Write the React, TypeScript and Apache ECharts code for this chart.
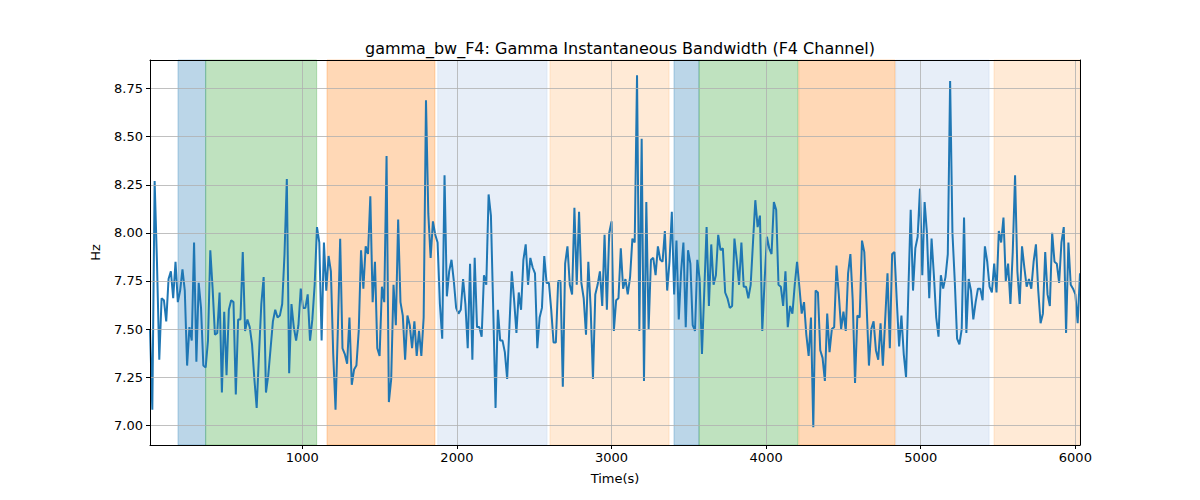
import React, { useEffect, useRef } from "react";
import * as echarts from "echarts";

const TITLE = "gamma_bw_F4: Gamma Instantaneous Bandwidth (F4 Channel)";
const X_LABEL = "Time(s)";
const Y_LABEL = "Hz";

const X_MIN = 15;
const X_MAX = 6030;
const Y_MIN = 6.897;
const Y_MAX = 8.899;
const X_TICKS = [1000, 2000, 3000, 4000, 5000, 6000];
const Y_TICKS = [7.0, 7.25, 7.5, 7.75, 8.0, 8.25, 8.5, 8.75];

const T_START = 15;
const T_END = 6030;

const values = [
  7.50, 7.08, 8.27, 7.85, 7.34, 7.66, 7.65, 7.54, 7.76, 7.80, 7.66, 7.85, 7.64, 7.70, 7.81, 7.70, 7.31, 7.51, 7.44, 7.95,
  7.33, 7.74, 7.61, 7.31, 7.30, 7.44, 7.91, 7.71, 7.47, 7.48, 7.69, 7.17, 7.59, 7.26, 7.60, 7.65, 7.64, 7.16, 7.55, 7.55,
  7.90, 7.49, 7.55, 7.51, 7.42, 7.24, 7.09, 7.37, 7.63, 7.77, 7.17, 7.26, 7.40, 7.54, 7.60, 7.56, 7.57, 7.63, 7.89, 8.28,
  7.27, 7.63, 7.51, 7.44, 7.52, 7.71, 7.61, 7.61, 7.68, 7.44,
  7.55, 7.73, 8.03, 7.95, 7.44, 7.95, 7.70, 7.88, 7.80, 7.37, 7.08, 7.50, 7.97, 7.40, 7.37, 7.32, 7.56, 7.21, 7.29, 7.31,
  7.49, 7.91, 7.71, 7.93, 7.89, 8.19, 7.64, 7.85, 7.40, 7.36, 7.72, 7.64, 8.40, 7.12, 7.24, 7.73, 7.52, 8.07, 7.64, 7.57,
  7.34, 7.57, 7.52, 7.40, 7.54, 7.36, 7.49, 7.36, 7.56, 8.69, 8.10, 7.87, 8.06, 7.99, 7.95, 7.63, 7.45, 8.30, 7.67, 7.80,
  7.86, 7.75, 7.61, 7.58, 7.60, 7.76,
  7.63, 7.40, 7.84, 7.34, 7.87, 7.51, 7.51, 7.46, 7.78, 7.73, 8.20, 8.09, 7.60, 7.09, 7.60, 7.44, 7.44, 7.38, 7.24, 7.52,
  7.80, 7.65, 7.48, 7.69, 7.60, 7.86, 7.94, 7.73, 7.87, 7.82, 7.79, 7.40, 7.56, 7.61, 7.88, 7.74, 7.74, 7.60, 7.43, 7.43,
  7.75, 7.75, 7.20, 7.84, 7.93, 7.73, 7.68, 8.13, 7.73, 8.11, 7.74, 7.66, 7.47, 7.85, 7.61, 7.24, 7.68, 7.73, 7.80, 7.62,
  7.99, 7.60, 8.00, 8.06, 7.49, 7.65, 7.66,
  7.92, 7.71, 7.76, 7.68, 7.77, 7.97, 7.95, 8.82, 7.49, 8.49, 7.23, 8.16, 7.50, 7.86, 7.87, 7.78, 7.93, 7.86, 7.85, 8.01,
  7.70, 7.85, 8.11, 7.68, 7.96, 7.55, 7.80, 7.95, 7.51, 7.91, 7.84, 7.52, 7.49, 7.86, 7.76, 7.37, 7.70, 8.03, 7.62, 7.94,
  7.73, 7.78, 7.99, 7.91, 7.92, 7.69, 7.66, 7.61, 7.62, 7.97, 7.86, 7.73, 7.95, 7.72, 7.72, 7.66, 7.73, 7.95, 8.17, 8.03,
  8.09, 7.49, 7.75, 7.98, 7.92, 7.89, 8.16,
  8.12, 7.73, 7.72, 7.62, 7.80, 7.51, 7.62, 7.58, 7.73, 7.85, 7.72, 7.58, 7.64, 7.47, 7.36, 7.56, 6.99, 7.70, 7.69, 7.39,
  7.35, 7.23, 7.58, 7.38, 7.50, 7.51, 7.83, 7.68, 7.50, 7.59, 7.49, 7.79, 7.89, 7.65, 7.22, 7.57, 7.56, 7.96, 7.90, 7.62,
  7.31, 7.50, 7.54, 7.39, 7.34, 7.53, 7.31, 7.55, 7.79, 7.40, 7.89, 7.90, 7.65, 7.41, 7.57, 7.37, 7.25, 7.70, 8.12, 7.70,
  7.92, 7.98, 8.23, 7.78, 8.16, 8.00, 7.66,
  7.97, 7.78, 7.56, 7.46, 7.78, 7.71, 7.77, 7.89, 8.79, 8.00, 7.75, 7.45, 7.42, 7.50, 8.08, 7.48, 7.76, 7.70, 7.55, 7.64,
  7.71, 7.71, 7.65, 7.93, 7.85, 7.72, 7.69, 7.84, 7.69, 8.01, 7.95, 8.08, 7.75, 7.84, 7.63, 7.90, 8.30, 7.80, 7.63, 7.93,
  7.82, 7.72, 7.76, 7.71, 7.85, 7.94, 7.70, 7.53, 7.58, 7.90, 7.68, 7.62, 8.00, 7.85, 7.84, 7.74, 7.95, 8.03, 7.48, 7.95,
  7.73, 7.71, 7.68, 7.53, 7.79,
];

const bandStarts = [196, 375, 1160, 1876, 2602, 3404, 3566, 4211, 4838, 5474];
const bandEnds = [375, 1093, 1858, 2583, 3372, 3566, 4206, 4834, 5442, 6030];
const bandColors = [
  "rgba(31,119,180,0.3)",
  "rgba(44,160,44,0.3)",
  "rgba(255,127,14,0.3)",
  "rgba(174,199,232,0.3)",
  "rgba(255,187,120,0.3)",
  "rgba(31,119,180,0.3)",
  "rgba(44,160,44,0.3)",
  "rgba(255,127,14,0.3)",
  "rgba(174,199,232,0.3)",
  "rgba(255,187,120,0.3)",
];

const FONT = "DejaVu Sans";

export default function App() {
  const ref = useRef<HTMLDivElement>(null);

  useEffect(() => {
    if (!ref.current) return;
    const chart = echarts.init(ref.current, null, { renderer: "svg" });
    const n = values.length;
    const dt = (T_END - T_START) / (n - 1);
    const points = values.map((v, i) => [T_START + i * dt, v]);

    const areas = bandStarts.map((s, i) => [
      {
        xAxis: s,
        itemStyle: { color: bandColors[i], borderColor: bandColors[i], borderWidth: 1 },
      },
      { xAxis: bandEnds[i] },
    ]);

    const gridLine = { show: true, lineStyle: { color: "#b0b0b0", width: 0.8 } };
    const labelStyle = { fontFamily: FONT, fontSize: 13, color: "#000" };

    chart.setOption({
      animation: false,
      backgroundColor: "#ffffff",
      title: {
        text: TITLE,
        left: 615,
        top: 35,
        textAlign: "center",
        textStyle: { fontFamily: FONT, fontSize: 16, fontWeight: "normal", color: "#000" },
      },
      grid: {
        left: 150,
        right: 120,
        top: 60,
        bottom: 55,
        show: false,
      },
      xAxis: [
        {
          type: "value",
          min: X_MIN,
          max: X_MAX,
          z: 10,
          name: X_LABEL,
          nameLocation: "middle",
          nameGap: 27,
          nameTextStyle: labelStyle,
          axisLine: { show: true, onZero: false, lineStyle: { color: "#000", width: 1 } },
          axisTick: { show: true, length: 4, customValues: X_TICKS, lineStyle: { color: "#000" } },
          axisLabel: {
            ...labelStyle,
            margin: 6,
            customValues: X_TICKS,
            formatter: (v: number) => String(v),
          },
          splitLine: gridLine,
        },
        {
          type: "value",
          position: "top",
          min: X_MIN,
          max: X_MAX,
          z: 10,
          axisLine: { show: true, onZero: false, lineStyle: { color: "#000", width: 1 } },
          axisTick: { show: false },
          axisLabel: { show: false },
          splitLine: { show: false },
        },
      ],
      yAxis: [
        {
          type: "value",
          min: Y_MIN,
          max: Y_MAX,
          z: 10,
          name: Y_LABEL,
          nameLocation: "middle",
          nameGap: 48,
          nameRotate: 90,
          nameTextStyle: labelStyle,
          axisLine: { show: true, onZero: false, lineStyle: { color: "#000", width: 1 } },
          axisTick: { show: true, length: 4, customValues: Y_TICKS, lineStyle: { color: "#000" } },
          axisLabel: {
            ...labelStyle,
            margin: 7,
            customValues: Y_TICKS,
            formatter: (v: number) => v.toFixed(2),
          },
          splitLine: gridLine,
        },
        {
          type: "value",
          position: "right",
          min: Y_MIN,
          max: Y_MAX,
          z: 10,
          axisLine: { show: true, onZero: false, lineStyle: { color: "#000", width: 1 } },
          axisTick: { show: false },
          axisLabel: { show: false },
          splitLine: { show: false },
        },
      ],
      series: [
        {
          type: "line",
          data: points,
          showSymbol: false,
          symbol: "none",
          lineStyle: { color: "#1f77b4", width: 2 },
          z: 3,
          markArea: {
            silent: true,
            data: areas,
          },
        },
      ],
    });
    return () => chart.dispose();
  }, []);

  return (
    <div
      ref={ref}
      style={{ position: "fixed", left: 0, top: 0, width: 1200, height: 500, background: "#fff" }}
    />
  );
}
